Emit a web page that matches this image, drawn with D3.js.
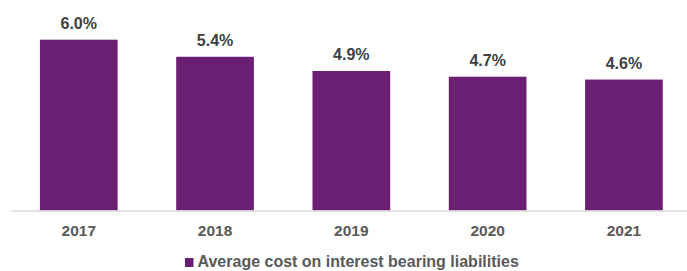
<!DOCTYPE html>
<html>
<head>
<meta charset="utf-8">
<script src="https://cdn.jsdelivr.net/npm/d3@7"></script>
<style>
  html, body { margin: 0; padding: 0; background: #fff; }
  svg { display: block; font-family: "Liberation Sans", Arial, sans-serif; }
</style>
</head>
<body>
<div id="chart"></div>
<script>
const years = ['2017', '2018', '2019', '2020', '2021'];
const costValues = [6.0, 5.4, 4.9, 4.7, 4.6];
const valueLabels = ['6.0%', '5.4%', '4.9%', '4.7%', '4.6%'];
const seriesName = 'Average cost on interest bearing liabilities';

const width = 687;
const height = 271;
const baseline = 210.5;

const svg = d3.select('#chart')
  .append('svg')
  .attr('width', width)
  .attr('height', height);

const x = d3.scaleBand()
  .domain(years)
  .range([10.6, 692.1])
  .paddingInner(0.43)
  .paddingOuter(0.215);

const y = d3.scaleLinear()
  .domain([0, 6])
  .range([baseline, 39.7]);

const data = years.map((yr, i) => ({ year: yr, value: costValues[i], label: valueLabels[i] }));

svg.selectAll('.bar')
  .data(data)
  .enter()
  .append('rect')
  .attr('class', 'bar')
  .attr('x', d => x(d.year))
  .attr('y', d => y(d.value))
  .attr('width', x.bandwidth())
  .attr('height', d => baseline - y(d.value))
  .attr('fill', '#6b1f73');

// baseline axis
svg.append('g')
  .attr('transform', `translate(0,${baseline})`)
  .call(d3.axisBottom(x).tickSize(0).tickPadding(14))
  .call(g => g.select('.domain').attr('d', `M11,0.5H${width}`).attr('stroke', '#d9d9d9').attr('stroke-width', 1.5))
  .call(g => g.selectAll('text')
    .attr('fill', '#595959')
    .style('font-size', '15.5px')
    .style('font-weight', 'bold')
    .style('font-family', '"Liberation Sans", Arial, sans-serif'));

svg.selectAll('.val')
  .data(data)
  .enter()
  .append('text')
  .attr('class', 'val')
  .attr('x', d => x(d.year) + x.bandwidth() / 2)
  .attr('y', d => y(d.value) - 11)
  .attr('text-anchor', 'middle')
  .attr('fill', '#404040')
  .style('font-size', '16px')
  .style('font-weight', 'bold')
  .text(d => d.label);

// legend
const legend = svg.append('g').attr('transform', 'translate(185,258)');
legend.append('rect')
  .attr('width', 8.5)
  .attr('height', 9)
  .attr('fill', '#6b1f73');
legend.append('text')
  .attr('x', 12.5)
  .attr('y', 9)
  .attr('fill', '#595959')
  .style('font-size', '16px')
  .style('font-weight', 'bold')
  .text(seriesName);
</script>
</body>
</html>
